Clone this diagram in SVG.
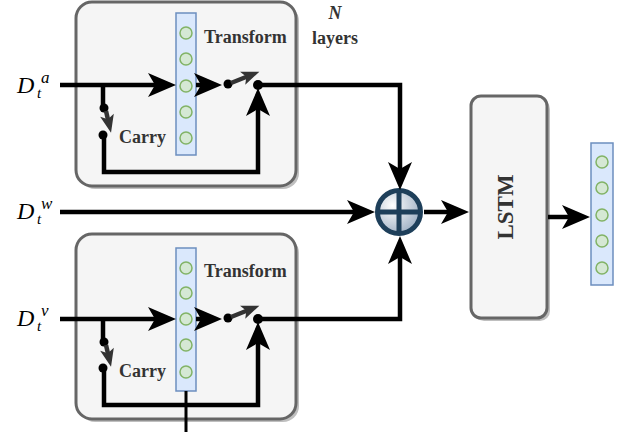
<svg xmlns="http://www.w3.org/2000/svg" width="622" height="432" viewBox="0 0 622 432">
<style>
.box{fill:#f5f5f5;stroke:#666;stroke-width:3}
.shadow{fill:#000;opacity:0.25}
.col{fill:#dae8fc;stroke:#6c8ebf;stroke-width:1.5}
.cir{fill:#d5e8d4;stroke:#82b366;stroke-width:1.5}
.wire{fill:none;stroke:#000;stroke-width:4.5}
.sw{fill:none;stroke:#333;stroke-width:4.5}
.dot{fill:#000}
.lbl{font-family:"Liberation Serif",serif;font-weight:bold;font-size:18px;fill:#333}
.big{font-size:23px}
.math{font-family:"Liberation Serif",serif;font-style:italic;fill:#000}
</style>
<defs>
<marker id="ah" viewBox="-15 -13 30 26" markerWidth="30" markerHeight="26" refX="0" refY="0" orient="auto" markerUnits="userSpaceOnUse">
<path d="M14,0 L-14,-12 L-7,0 L-14,12 Z" fill="#000"/>
</marker>
<marker id="gh" viewBox="-10 -8 20 16" markerWidth="20" markerHeight="16" refX="0" refY="0" orient="auto" markerUnits="userSpaceOnUse">
<path d="M9,0 L-9,-7 L-5,0 L-9,7 Z" fill="#333"/>
</marker>
<radialGradient id="og" cx="0.35" cy="0.35" r="0.7">
<stop offset="0" stop-color="#ffffff"/>
<stop offset="1" stop-color="#9fb0c4"/>
</radialGradient>
</defs>

<g id="layer-top">
<rect class="shadow" x="79" y="5" width="220" height="184" rx="16"/>
<rect class="box" x="76" y="2" width="220" height="184" rx="16"/>
<rect class="col" x="176" y="13" width="20" height="142"/>
<circle class="cir" cx="186" cy="33" r="6"/>
<circle class="cir" cx="186" cy="59" r="6"/>
<circle class="cir" cx="186" cy="86" r="6"/>
<circle class="cir" cx="186" cy="112" r="6"/>
<circle class="cir" cx="186" cy="138" r="6"/>
<text class="lbl" x="204" y="43">Transform</text>
<text class="lbl" x="119" y="143">Carry</text>
</g>

<g id="layer-bottom">
<rect class="shadow" x="79" y="237" width="220" height="185" rx="16"/>
<rect class="box" x="76" y="234" width="220" height="185" rx="16"/>
<rect class="col" x="176" y="248" width="20" height="143"/>
<circle class="cir" cx="186" cy="268" r="6"/>
<circle class="cir" cx="186" cy="293" r="6"/>
<circle class="cir" cx="186" cy="319" r="6"/>
<circle class="cir" cx="186" cy="345" r="6"/>
<circle class="cir" cx="186" cy="372" r="6"/>
<text class="lbl" x="204" y="277">Transform</text>
<text class="lbl" x="119" y="377">Carry</text>
</g>

<g id="n-layers">
<text class="lbl" x="335" y="19" text-anchor="middle" font-style="italic">N</text>
<text class="lbl" x="335" y="44" text-anchor="middle">layers</text>
</g>

<g id="input-a">
<text class="math" x="17" y="93" font-size="24">D</text>
<text class="math" x="37" y="98" font-size="15">t</text>
<text class="math" x="41" y="83" font-size="17">a</text>
</g>
<g id="input-w">
<text class="math" x="17" y="219" font-size="24">D</text>
<text class="math" x="37" y="224" font-size="15">t</text>
<text class="math" x="41" y="209" font-size="17">w</text>
</g>
<g id="input-v">
<text class="math" x="17" y="326" font-size="24">D</text>
<text class="math" x="37" y="331" font-size="15">t</text>
<text class="math" x="41" y="316" font-size="17">v</text>
</g>

<g id="oplus">
<circle cx="399" cy="212" r="21.5" fill="url(#og)" stroke="#1e3f5a" stroke-width="5"/>
<line x1="399" y1="190" x2="399" y2="234" stroke="#1e3f5a" stroke-width="5"/>
<line x1="377" y1="212" x2="421" y2="212" stroke="#1e3f5a" stroke-width="5"/>
</g>

<g id="lstm">
<rect class="shadow" x="474" y="99" width="76" height="222" rx="10"/>
<rect class="box" x="471" y="96" width="76" height="222" rx="10"/>
<text class="lbl big" x="0" y="0" text-anchor="middle" transform="translate(513,207) rotate(-90)">LSTM</text>
</g>

<g id="output">
<rect class="col" x="591" y="143" width="22" height="142"/>
<circle class="cir" cx="602" cy="162" r="6"/>
<circle class="cir" cx="602" cy="188" r="6"/>
<circle class="cir" cx="602" cy="215" r="6"/>
<circle class="cir" cx="602" cy="241" r="6"/>
<circle class="cir" cx="602" cy="268" r="6"/>
</g>

<g id="connectors">
<path class="wire" d="M60,85 L162,85" marker-end="url(#ah)"/>
<path class="wire" d="M196,85 L208,85" marker-end="url(#ah)"/>
<circle class="dot" cx="228" cy="84" r="4.5"/>
<path class="sw" d="M231,83 L251,75" marker-end="url(#gh)"/>
<circle class="dot" cx="258" cy="85" r="5"/>
<path class="wire" d="M258,85 L400,85 L400,176" marker-end="url(#ah)"/>
<path class="wire" d="M103,85 L103,106"/>
<circle class="dot" cx="104" cy="108" r="4.5"/>
<path class="sw" d="M106,111 L109,124" marker-end="url(#gh)"/>
<circle class="dot" cx="103" cy="135" r="4.5"/>
<path class="wire" d="M104,135 L104,172 L258,172 L258,102" marker-end="url(#ah)"/>
<path class="wire" d="M60,212 L361,212" marker-end="url(#ah)"/>
<path class="wire" d="M60,319 L162,319" marker-end="url(#ah)"/>
<path class="wire" d="M196,319 L208,319" marker-end="url(#ah)"/>
<circle class="dot" cx="228" cy="318" r="4.5"/>
<path class="sw" d="M231,317 L251,309" marker-end="url(#gh)"/>
<circle class="dot" cx="258" cy="319" r="5"/>
<path class="wire" d="M258,319 L400,319 L400,250" marker-end="url(#ah)"/>
<path class="wire" d="M103,319 L103,340"/>
<circle class="dot" cx="104" cy="342" r="4.5"/>
<path class="sw" d="M106,345 L109,358" marker-end="url(#gh)"/>
<circle class="dot" cx="103" cy="368" r="4.5"/>
<path class="wire" d="M104,368 L104,405 L258,405 L258,336" marker-end="url(#ah)"/>
<path d="M186,391 L186,432" fill="none" stroke="#000" stroke-width="3"/>
<path class="wire" d="M424,212 L455,212" marker-end="url(#ah)"/>
<path class="wire" d="M548,217 L576,217" marker-end="url(#ah)"/>
</g>
</svg>
